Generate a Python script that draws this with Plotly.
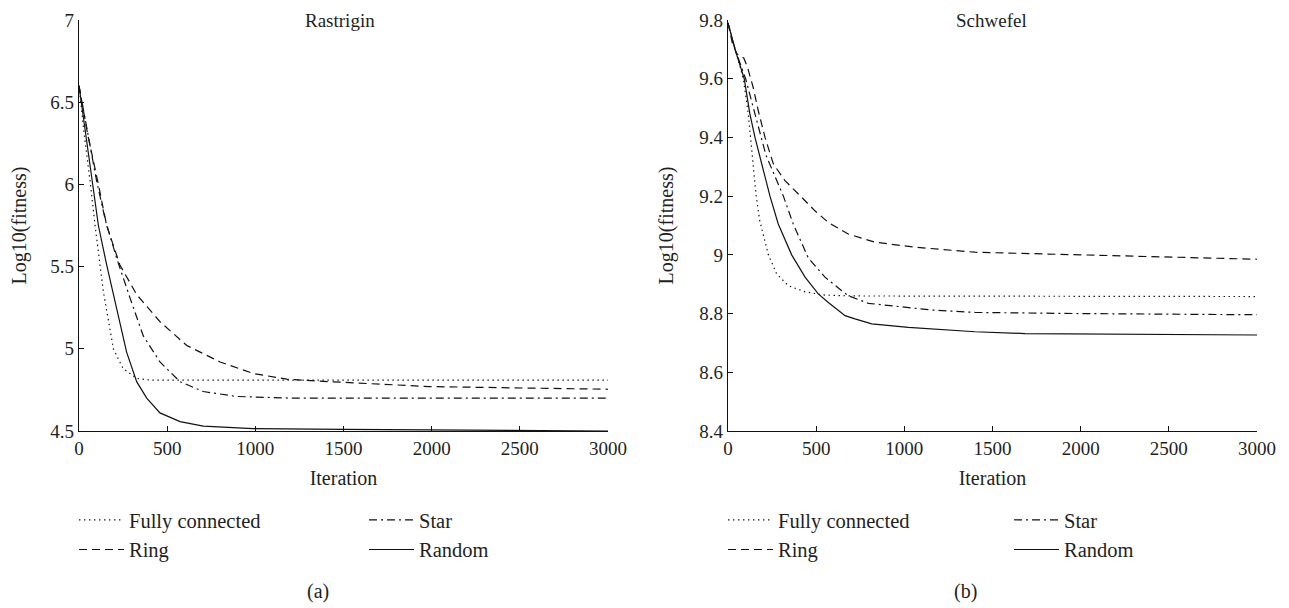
import plotly.graph_objects as go

# ---------------- data ----------------
# (a) Rastrigin
ras_fc_x = [0, 30, 65, 91, 138, 195, 250, 327, 400, 3000]
ras_fc_y = [6.6, 6.3, 6.0, 5.75, 5.35, 5.0, 4.88, 4.82, 4.81, 4.81]

ras_ring_x = [0, 50, 110, 157, 232, 327, 459, 611, 800, 988, 1178, 1424, 1991, 3000]
ras_ring_y = [6.6, 6.3, 6.0, 5.75, 5.51, 5.33, 5.165, 5.02, 4.92, 4.85, 4.815, 4.80, 4.77, 4.754]

ras_star_x = [0, 50, 100, 150, 214, 289, 364, 459, 573, 705, 894, 1200, 3000]
ras_star_y = [6.6, 6.3, 6.02, 5.78, 5.55, 5.31, 5.08, 4.92, 4.80, 4.74, 4.71, 4.70, 4.70]

ras_rand_x = [0, 40, 80, 110, 157, 214, 270, 327, 384, 459, 573, 705, 987, 1500, 2000, 2500, 2800, 3000]
ras_rand_y = [6.6, 6.3, 6.0, 5.75, 5.51, 5.25, 4.98, 4.80, 4.70, 4.61, 4.557, 4.53, 4.515, 4.51, 4.507, 4.505, 4.502, 4.5]

# (b) Schwefel
sch_fc_x = [0, 38, 87, 115, 128, 143, 160, 180, 229, 276, 342, 437, 550, 700, 3000]
sch_fc_y = [9.79, 9.707, 9.6, 9.48, 9.4, 9.31, 9.2, 9.116, 9.0, 8.935, 8.895, 8.874, 8.863, 8.86, 8.858]

sch_ring_x = [0, 25, 50, 90, 110, 143, 172, 210, 257, 323, 418, 493, 570, 682, 834, 1061, 1401, 1968, 2535, 3000]
sch_ring_y = [9.79, 9.72, 9.685, 9.67, 9.64, 9.57, 9.49, 9.40, 9.31, 9.253, 9.196, 9.15, 9.11, 9.071, 9.043, 9.026, 9.009, 9.0, 8.99, 8.985]

sch_star_x = [0, 40, 100, 145, 190, 215, 314, 370, 455, 550, 645, 682, 796, 966, 1155, 1401, 2000, 3000]
sch_star_y = [9.79, 9.70, 9.6, 9.5, 9.4, 9.34, 9.2, 9.105, 8.99, 8.924, 8.878, 8.861, 8.835, 8.823, 8.812, 8.804, 8.80, 8.796]

sch_rand_x = [0, 40, 92, 124, 153, 191, 238, 285, 361, 437, 512, 569, 664, 720, 815, 1023, 1250, 1401, 1684, 2211, 3000]
sch_rand_y = [9.79, 9.7, 9.6, 9.48, 9.4, 9.31, 9.2, 9.105, 9.0, 8.924, 8.867, 8.838, 8.793, 8.782, 8.765, 8.753, 8.744, 8.738, 8.732, 8.731, 8.727]

series_names = ["Fully connected", "Ring", "Star", "Random"]
x_ticks = [0, 500, 1000, 1500, 2000, 2500, 3000]
ras_y_ticks = [4.5, 5, 5.5, 6, 6.5, 7]
sch_y_ticks = [8.4, 8.6, 8.8, 9, 9.2, 9.4, 9.6, 9.8]
panel_titles = ["Rastrigin", "Schwefel"]
panel_labels = ["(a)", "(b)"]

# ---------------- styling ----------------
FONT = "'Liberation Serif', 'Times New Roman', serif"
TXT = "#231f20"
FS_TICK = 19
FS_TITLE = 20
FS_LEG = 20.5
dashes = {
    "Fully connected": "1.4px,3.6px",
    "Ring": "8px,5px",
    "Star": "8px,4px,2px,4px",
    "Random": "solid",
}

fig = go.Figure()

panels = [
    ("x", "y", [(ras_fc_x, ras_fc_y), (ras_ring_x, ras_ring_y), (ras_star_x, ras_star_y), (ras_rand_x, ras_rand_y)], ("legend", "legend2")),
    ("x2", "y2", [(sch_fc_x, sch_fc_y), (sch_ring_x, sch_ring_y), (sch_star_x, sch_star_y), (sch_rand_x, sch_rand_y)], ("legend3", "legend4")),
]
for xa, ya, data, legs in panels:
    for name, (xs, ys) in zip(series_names, data):
        fig.add_trace(go.Scatter(
            x=xs, y=ys, name=name, mode="lines",
            line=dict(color="#111111", width=1.2, dash=dashes[name]),
            xaxis=xa, yaxis=ya,
            legend=legs[0] if name in ("Fully connected", "Ring") else legs[1],
        ))

# the page body adds an 8px offset; work in screen pixels
OFF = 8
W, H = 1289, 608
L = 79 - OFF
T = 20 - OFF
B = H - (431 - OFF)
R = W - (1257 - OFF)
pw = W - L - R
ph = H - T - B

def sx(px):
    return (px - OFF - L) / pw

def sy(py):
    return (H - B - (py - OFF)) / ph

xd1 = [0, sx(608)]
xd2 = [sx(728), 1]

axis_common = dict(
    showline=True, linecolor="#111111", linewidth=1.3,
    ticks="inside", ticklen=5, tickwidth=1.2, tickcolor="#111111",
    showgrid=False, zeroline=False, automargin=False,
    tickfont=dict(family=FONT, size=FS_TICK, color=TXT),
    title_font=dict(family=FONT, size=FS_TITLE, color=TXT),
)

fig.update_layout(
    width=W, height=H,
    margin=dict(l=L, r=R, t=T, b=B, autoexpand=False),
    paper_bgcolor="white", plot_bgcolor="white",
    font=dict(family=FONT, size=FS_TICK, color=TXT),
    xaxis=dict(domain=xd1, range=[0, 3000], tickvals=x_ticks, anchor="y",
               title=dict(text="Iteration", standoff=13), **axis_common),
    yaxis=dict(domain=[0, 1], range=[4.5, 7], tickvals=ras_y_ticks, anchor="x",
               ticktext=[f"{v:g}" for v in ras_y_ticks],
               title=dict(text="Log10(fitness)", standoff=20), **axis_common),
    xaxis2=dict(domain=xd2, range=[0, 3000], tickvals=x_ticks, anchor="y2",
                title=dict(text="Iteration", standoff=13), **axis_common),
    yaxis2=dict(domain=[0, 1], range=[8.4, 9.8], tickvals=sch_y_ticks, anchor="x2",
                ticktext=[f"{v:g}" for v in sch_y_ticks],
                title=dict(text="Log10(fitness)", standoff=20), **axis_common),
    showlegend=True,
)

leg_common = dict(
    orientation="v", xanchor="left", yanchor="top",
    bgcolor="rgba(0,0,0,0)", borderwidth=0,
    font=dict(family=FONT, size=FS_LEG, color=TXT),
    itemwidth=45, tracegroupgap=0,
)
leg_y = sy(500)
fig.update_layout(
    legend=dict(x=sx(74), y=leg_y, **leg_common),
    legend2=dict(x=sx(364), y=leg_y, **leg_common),
    legend3=dict(x=sx(723), y=leg_y, **leg_common),
    legend4=dict(x=sx(1009), y=leg_y, **leg_common),
)

# panel titles and sub-figure labels
for title, lab, cx_title, cx_lab in zip(panel_titles, panel_labels, [340, 991], [318, 966]):
    fig.add_annotation(text=title, xref="paper", yref="paper",
                       x=sx(cx_title), y=sy(21), xanchor="center", yanchor="middle",
                       showarrow=False, font=dict(family=FONT, size=FS_TICK, color=TXT))
    fig.add_annotation(text=lab, xref="paper", yref="paper",
                       x=sx(cx_lab), y=sy(591), xanchor="center", yanchor="middle",
                       showarrow=False, font=dict(family=FONT, size=FS_TITLE, color=TXT))

fig.write_html("out.html")
